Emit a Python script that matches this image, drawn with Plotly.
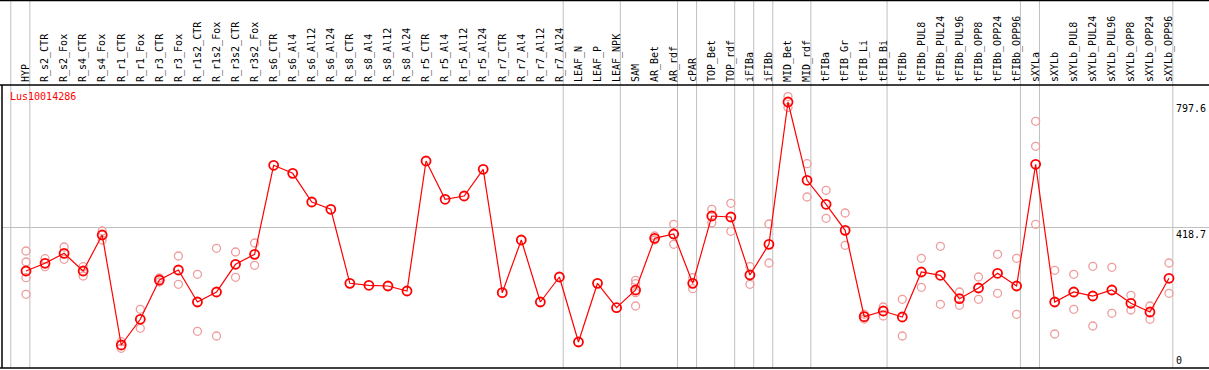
import plotly.graph_objects as go

categories = ["HYP", "R_s2_CTR", "R_s2_Fox", "R_s4_CTR", "R_s4_Fox", "R_r1_CTR", "R_r1_Fox",
              "R_r3_CTR", "R_r3_Fox", "R_r1s2_CTR", "R_r1s2_Fox", "R_r3s2_CTR", "R_r3s2_Fox",
              "R_s6_CTR", "R_s6_Al4", "R_s6_Al12", "R_s6_Al24", "R_s8_CTR", "R_s8_Al4",
              "R_s8_Al12", "R_s8_Al24", "R_r5_CTR", "R_r5_Al4", "R_r5_Al12", "R_r5_Al24",
              "R_r7_CTR", "R_r7_Al4", "R_r7_Al12", "R_r7_Al24", "LEAF_N", "LEAF_P", "LEAF_NPK",
              "SAM", "AR_Bet", "AR_rdf", "cPAR", "TOP_Bet", "TOP_rdf", "iFIBa", "iFIBb",
              "MID_Bet", "MID_rdf", "tFIBa", "tFIB_Gr", "tFIB_Li", "tFIB_Bi", "tFIBb",
              "tFIBb_PUL8", "tFIBb_PUL24", "tFIBb_PUL96", "tFIBb_OPP8", "tFIBb_OPP24", "tFIBb_OPP96",
              "sXYLa", "sXYLb", "sXYLb_PUL8", "sXYLb_PUL24", "sXYLb_PUL96", "sXYLb_OPP8",
              "sXYLb_OPP24", "sXYLb_OPP96"]

means = [289.3, 312.5, 342.5, 289.3, 397.6, 66.8, 144.1, 262.3, 292.3, 196.1, 226.2, 309.5, 339.5,
         607.2, 583.1, 496.8, 474.9, 252.3, 246.3, 244.2, 229.2, 620.1, 505.0, 514.9, 595.2,
         224.1, 382.6, 196.1, 271.3, 75.8, 252.3, 178.9,
         232.2, 387.7, 400.6, 252.3, 454.7, 451.7, 277.3, 369.6,
         797.6, 562.1, 489.9, 411.7, 151.9, 169.0, 151.0,
         286.3, 276.4, 206.0, 238.2, 282.4, 244.2,
         610.2, 196.1, 226.2, 214.1, 232.2, 192.2, 166.0, 267.4]

replicates = [
    [349.5, 316.4, 269.2, 219.2], [326.3, 302.3], [361.5, 324.5], [302.3, 274.3], [409.6, 382.6],
    [76.7, 56.8], [174.1, 117.0], [268.3, 256.3], [334.4, 249.3], [279.4, 108.0], [357.6, 93.8],
    [346.5, 270.4], [373.5, 306.5],
    [], [], [], [], [], [], [], [], [], [], [], [], [], [], [], [], [], [], [],
    [261.4, 251.1, 224.1, 184.1], [394.6, 382.6], [429.8, 369.6], [269.2, 236.1],
    [474.9, 434.6], [492.9, 408.7], [302.3, 249.3], [430.7, 313.4],
    [814.0, 781.0], [612.0, 511.9], [532.0, 447.8], [463.8, 366.6], [159.1, 145.0],
    [181.0, 154.0], [204.2, 93.8],
    [327.5, 240.3], [363.6, 189.2], [226.2, 186.2], [271.3, 204.2], [339.5, 222.3], [327.5, 159.1],
    [739.5, 664.3, 429.8], [291.4, 99.8], [279.4, 174.1], [303.5, 123.9], [300.5, 162.1],
    [216.2, 172.0], [184.1, 144.1], [313.4, 222.3]]

group_ends = [-1, 0, 28, 31, 34, 35, 37, 38, 39, 41, 45, 52, 53, 60]
scale_labels = [797.6, 418.7, 0]
title = "Lus10014286"

FONT = "DejaVu Sans Mono"
W, H = 1209, 370
ML, MR, MT, MB = 2, 0, 85, 2
XMIN, XMAX = -1.26, 62.10
YMIN, YMAX = -2.4, 848.7
pw = W - ML - MR
ph = H - MT - MB

rx, ry = [], []
for i, reps in enumerate(replicates):
    for v in reps:
        rx.append(i)
        ry.append(v)

fig = go.Figure()
fig.add_trace(go.Scatter(
    x=rx, y=ry, mode="markers",
    marker=dict(symbol="circle-open", size=8, color="#ee9c9c", line=dict(width=1.3, color="#ee9c9c")),
    hoverinfo="skip", showlegend=False, cliponaxis=False))
fig.add_trace(go.Scatter(
    x=list(range(len(categories))), y=means, mode="lines+markers",
    line=dict(color="#ff0000", width=1.2),
    marker=dict(symbol="circle-open", size=9, color="#ff0000", line=dict(width=1.8, color="#ff0000")),
    showlegend=False, cliponaxis=False))

def xpaper(i):
    return (i - XMIN) / (XMAX - XMIN)

top_paper = (H - MB - 0.5) / ph
shapes = []
for g in group_ends:
    xp = xpaper(g + 0.2)
    shapes.append(dict(type="line", xref="paper", yref="paper", x0=xp, x1=xp, y0=0, y1=top_paper,
                       line=dict(color="#c0c0c0", width=1), layer="below"))
shapes += [
    dict(type="line", xref="paper", yref="paper", x0=-ML / pw, x1=1, y0=top_paper, y1=top_paper,
         line=dict(color="black", width=1.5)),
    dict(type="line", xref="paper", yref="paper", x0=-ML / pw, x1=1, y0=1, y1=1,
         line=dict(color="black", width=1.5)),
    dict(type="line", xref="paper", yref="paper", x0=-ML / pw, x1=1, y0=0, y1=0,
         line=dict(color="black", width=1.5)),
    dict(type="line", xref="paper", yref="paper", x0=0, x1=0, y0=0, y1=1,
         line=dict(color="black", width=1.5)),
]

annotations = [dict(text=title, xref="paper", yref="paper", x=(8 - ML) / pw, y=(H - MB - 97) / ph,
                    xanchor="left", yanchor="middle", showarrow=False,
                    font=dict(family=FONT, size=10, color="#ff0000"))]
lab_x = (1175 - ML) / pw
for v in scale_labels:
    annotations.append(dict(text=str(v) if v else "0", xref="paper", yref="y", x=lab_x, y=v,
                            xanchor="left", yanchor="bottom" if v == 0 else "top",
                            showarrow=False, borderpad=0,
                            font=dict(family=FONT, size=10, color="black")))

fig.update_layout(
    width=W, height=H, margin=dict(l=ML, r=MR, t=MT, b=MB),
    paper_bgcolor="white", plot_bgcolor="white",
    shapes=shapes, annotations=annotations,
    xaxis=dict(range=[XMIN, XMAX], side="top", tickmode="array",
               tickvals=list(range(len(categories))), ticktext=categories,
               tickangle=-90, ticks="", showgrid=False, zeroline=False, showline=False,
               ticklabelstandoff=2,
               tickfont=dict(family=FONT, size=10, color="black")),
    yaxis=dict(range=[YMIN, YMAX], tickmode="array", tickvals=[418.7], showticklabels=False,
               showgrid=True, gridcolor="#c0c0c0", gridwidth=1, zeroline=False, showline=False),
)
fig.write_html("out.html", config={"displayModeBar": False},
               post_script="document.body.style.margin='0';document.body.style.overflow='hidden';")
